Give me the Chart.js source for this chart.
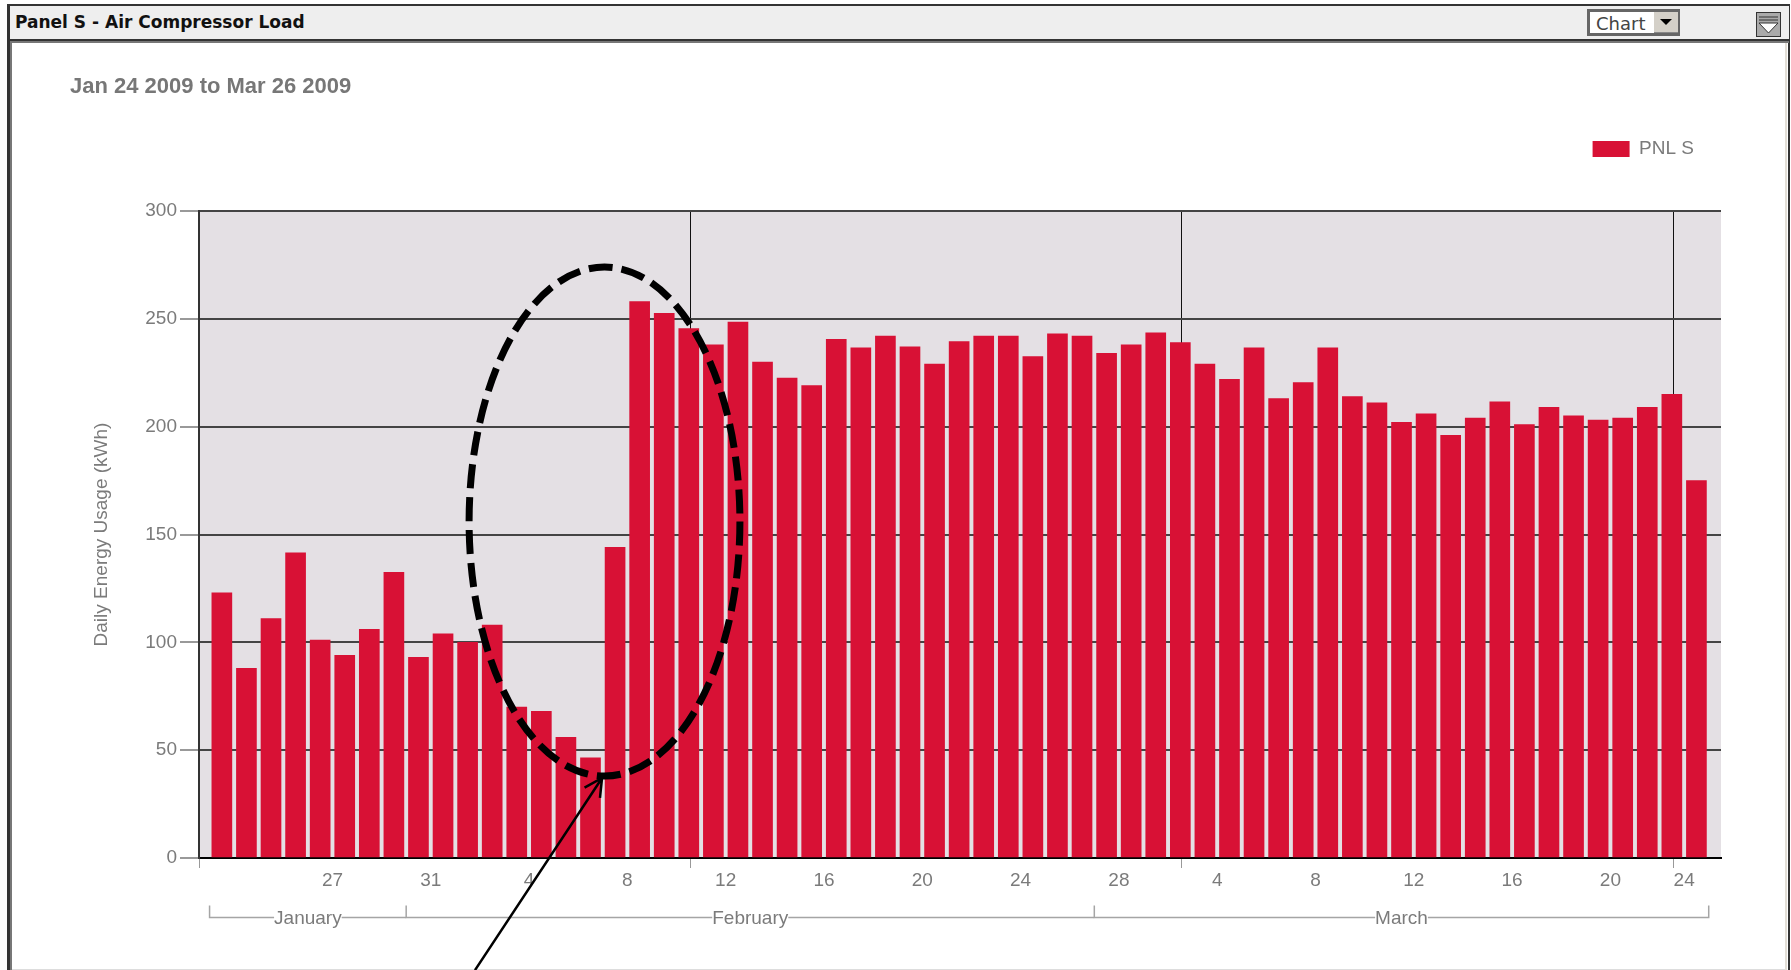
<!DOCTYPE html>
<html>
<head>
<meta charset="utf-8">
<title>Panel S - Air Compressor Load</title>
<script src="https://cdn.jsdelivr.net/npm/chart.js@4"></script>
<style>
  html, body { margin: 0; padding: 0; background: #fff; overflow: hidden; }
  #page { position: relative; width: 1791px; height: 970px; overflow: hidden; }
  #frame { position: absolute; left: 7px; top: 4px; width: 1783px; height: 990px; border: 2px solid #333; border-left-width: 3px; box-sizing: border-box; }
  #header { position: absolute; left: 10px; top: 6px; width: 1779px; height: 33px; background: #eee; }
  #rule { position: absolute; left: 10px; top: 39px; width: 1779px; height: 4px; background: linear-gradient(#333 50%, #777 50%); }
  #leftEdge { position: absolute; left: 10px; top: 43px; width: 2px; height: 930px; background: #777; }
  #rightEdge { position: absolute; left: 1785px; top: 43px; width: 2px; height: 930px; background: #e2ded6; }
  #bottomEdge { position: absolute; left: 12px; top: 969px; width: 1773px; height: 1px; background: #ddd; }
  #panelTitle { position: absolute; left: 15px; top: 12px; font: bold 17px "DejaVu Sans", sans-serif; color: #111; white-space: nowrap; }
  #select { position: absolute; left: 1587px; top: 9px; width: 93px; height: 27px; border: 3px solid #666; border-right-width: 2px; box-sizing: border-box; background: #fff;
            font: 18px "DejaVu Sans", sans-serif; color: #444; line-height: 23px; padding-left: 6px; }
  #selectBtn { position: absolute; right: 0; top: 0; width: 24px; height: 21px; background: #d4d0c8; border-bottom: 1px solid #888; box-sizing: border-box; }
  #selectBtn:after { content: ""; position: absolute; left: 6px; top: 7px; border: 6px solid transparent; border-top: 6px solid #000; border-bottom: 0; }
  #collapse { position: absolute; left: 1756px; top: 12px; width: 25px; height: 25px; }
  #chartBox { position: absolute; left: 0; top: 0; width: 1791px; height: 970px; }
</style>
</head>
<body>
<div id="page">
  <div id="frame"></div>
  <div id="header"></div>
  <div id="rule"></div>
  <div id="leftEdge"></div>
  <div id="rightEdge"></div>
  <div id="bottomEdge"></div>
  <div id="panelTitle">Panel S - Air Compressor Load</div>
  <div id="select">Chart<div id="selectBtn"></div></div>
  <svg id="collapse" viewBox="0 0 25 25">
    <rect x="0.5" y="0.5" width="24" height="24" fill="#aaa" stroke="#333"/>
    <path d="M3 5H22M3 8H22" stroke="#333" fill="none"/>
    <path d="M3 11H22L12.5 21Z" fill="#fff" stroke="#333"/>
  </svg>
  <div id="chartBox"><canvas id="myChart" width="1791" height="970"></canvas></div>
</div>
<script>
// one value per day, Jan 24 to Mar 25
const usage = [
  123, 88, 111, 141.5, 101, 94, 106, 132.5,
  93, 104, 100, 108, 70, 68, 56, 46.5, 144, 258, 252.5, 245.5, 238, 248.5, 230, 222.5, 219, 240.5, 236.5, 242,
  237, 229, 239.5, 242, 242, 232.5, 243, 242,
  234, 238, 243.5, 239, 229, 222, 236.5, 213, 220.5, 236.5, 214, 211, 202, 206, 196, 204, 211.5, 201, 209, 205, 203, 204, 209, 215, 175
];
const dayLabels = ['27', '31', '4', '8', '12', '16', '20', '24', '28', '4', '8', '12', '16', '20', '24'];
const dayLabelAt = [4.5, 8.5, 12.5, 16.5, 20.5, 24.5, 28.5, 32.5, 36.5, 40.5, 44.5, 48.5, 52.5, 56.5, 59.5];
const gridAt = [-0.93, 19.05, 39.05, 59.05];
const months = ['January', 'February', 'March'];
const monthEdges = [-0.5, 7.5, 35.5, 60.5];
const yTicks = [0, 50, 100, 150, 200, 250, 300];

// hand drawn mark-up on the original, in data units
const ringCentre = [15.57, 156];
const ringRadius = [5.51, 118];
const arrowTail = [10.3, -52];
const arrowTip = [15.47, 37.1];

const X_MIN = -0.93;
const X_MAX = 61;
const GREY = '#7b7b7b';
const RED = '#d81135';
const FONT = '"Liberation Sans"';

function fixedTicks(values) {
  return scale => { scale.ticks = values.map(v => ({value: v})); };
}

const background = {
  id: 'background',
  beforeDraw(chart) {
    const a = chart.chartArea;
    chart.ctx.fillStyle = '#e4e0e4';
    chart.ctx.fillRect(a.left, a.top, a.right - a.left, a.bottom - a.top);
  }
};

// the legend sat a bit inside the plot's right edge
const placeLegend = {
  id: 'placeLegend',
  afterLayout(chart) {
    chart.legend.left -= 17;
    chart.legend.right -= 17;
  }
};

const monthBrackets = {
  id: 'monthBrackets',
  afterDraw(chart) {
    const ctx = chart.ctx;
    const scale = chart.scales.xMonth;
    const y = 917.5;
    ctx.save();
    ctx.strokeStyle = '#a5a5a5';
    ctx.lineWidth = 1.5;
    ctx.font = '19px ' + FONT;
    months.forEach((name, i) => {
      const from = scale.getPixelForValue(monthEdges[i]);
      const to = scale.getPixelForValue(monthEdges[i + 1]);
      const half = ctx.measureText(name).width / 2;
      const mid = (from + to) / 2;
      ctx.beginPath();
      ctx.moveTo(from, y - 12);
      ctx.lineTo(from, y);
      ctx.lineTo(mid - half, y);
      ctx.moveTo(mid + half, y);
      ctx.lineTo(to, y);
      if (i === months.length - 1) ctx.lineTo(to, y - 12);
      ctx.stroke();
    });
    ctx.restore();
  }
};

const markup = {
  id: 'markup',
  afterDraw(chart) {
    const ctx = chart.ctx;
    const px = v => chart.scales.x.getPixelForValue(v);
    const py = v => chart.scales.y.getPixelForValue(v);
    const cx = px(ringCentre[0]);
    const cy = py(ringCentre[1]);
    const rx = px(ringCentre[0] + ringRadius[0]) - cx;
    const ry = cy - py(ringCentre[1] + ringRadius[1]);
    ctx.save();
    ctx.strokeStyle = '#000';
    ctx.lineWidth = 7;
    ctx.setLineDash([24, 9]);
    ctx.beginPath();
    ctx.ellipse(cx, cy, rx, ry, 0, 0, Math.PI * 2);
    ctx.stroke();

    const tx = px(arrowTip[0]);
    const ty = py(arrowTip[1]);
    const fx = px(arrowTail[0]);
    const fy = py(arrowTail[1]);
    const angle = Math.atan2(ty - fy, tx - fx);
    ctx.setLineDash([]);
    ctx.lineWidth = 2.5;
    ctx.beginPath();
    ctx.moveTo(fx, fy);
    ctx.lineTo(tx, ty);
    ctx.moveTo(tx - 20 * Math.cos(angle - 0.48), ty - 20 * Math.sin(angle - 0.48));
    ctx.lineTo(tx, ty);
    ctx.lineTo(tx - 20 * Math.cos(angle + 0.48), ty - 20 * Math.sin(angle + 0.48));
    ctx.stroke();
    ctx.restore();
  }
};

new Chart(document.getElementById('myChart'), {
  type: 'bar',
  data: {
    datasets: [{
      label: 'PNL S',
      data: usage.map((v, i) => ({x: i, y: v})),
      backgroundColor: RED,
      borderWidth: 0,
      barThickness: 20,
      xAxisID: 'x',
      yAxisID: 'y'
    }]
  },
  plugins: [background, placeLegend, monthBrackets, markup],
  options: {
    responsive: false,
    animation: false,
    layout: {padding: {left: 70, right: 70, top: 74, bottom: 0}},
    plugins: {
      tooltip: {enabled: false},
      title: {
        display: true,
        text: 'Jan 24 2009 to Mar 26 2009',
        align: 'start',
        color: '#777',
        font: {family: FONT, size: 22, weight: 'bold'},
        padding: {top: 0, bottom: 29}
      },
      legend: {
        position: 'top',
        align: 'end',
        labels: {
          boxWidth: 37,
          boxHeight: 16,
          color: GREY,
          padding: 10,
          font: {family: FONT, size: 19}
        }
      }
    },
    scales: {
      // empty axis, only holds the gap between legend and plot
      xTop: {
        type: 'linear',
        position: 'top',
        min: X_MIN,
        max: X_MAX,
        offset: false,
        afterFit: s => { s.height = 42.6; },
        grid: {display: false},
        border: {display: false},
        ticks: {display: false}
      },
      x: {
        type: 'linear',
        position: 'bottom',
        weight: 1,
        min: X_MIN,
        max: X_MAX,
        offset: false,
        afterBuildTicks: fixedTicks(dayLabelAt),
        afterFit: s => { s.height = 36; },
        grid: {display: false, offset: false},
        border: {display: false},
        ticks: {
          autoSkip: false,
          maxRotation: 0,
          color: GREY,
          padding: 3,
          font: {family: FONT, size: 19},
          callback: (v, i) => dayLabels[i]
        }
      },
      xGrid: {
        type: 'linear',
        position: 'bottom',
        weight: 0,
        min: X_MIN,
        max: X_MAX,
        offset: false,
        afterBuildTicks: fixedTicks(gridAt),
        afterFit: s => { s.height = 0; },
        border: {color: '#000', width: 2},
        grid: {color: '#111', tickColor: '#999', tickLength: 10, lineWidth: 1, offset: false},
        ticks: {display: false}
      },
      xMonth: {
        type: 'linear',
        position: 'bottom',
        weight: 2,
        min: X_MIN,
        max: X_MAX,
        offset: false,
        afterBuildTicks: fixedTicks(months.map((m, i) => (monthEdges[i] + monthEdges[i + 1]) / 2)),
        afterFit: s => { s.height = 76; },
        grid: {display: false, offset: false},
        border: {display: false},
        ticks: {
          autoSkip: false,
          maxRotation: 0,
          color: GREY,
          padding: 5,
          font: {family: FONT, size: 19},
          callback: (v, i) => months[i]
        }
      },
      y: {
        min: 0,
        max: 300,
        afterBuildTicks: fixedTicks(yTicks),
        afterFit: s => { s.width = 129; },
        border: {color: '#333', width: 2},
        grid: {color: '#444', tickColor: '#999', tickLength: 19, lineWidth: 2},
        ticks: {
          color: GREY,
          padding: 3,
          font: {family: FONT, size: 19}
        },
        title: {
          display: true,
          text: 'Daily Energy Usage (kWh)',
          color: GREY,
          padding: {top: 20, bottom: 0},
          font: {family: FONT, size: 19}
        }
      }
    }
  }
});
</script>
</body>
</html>
